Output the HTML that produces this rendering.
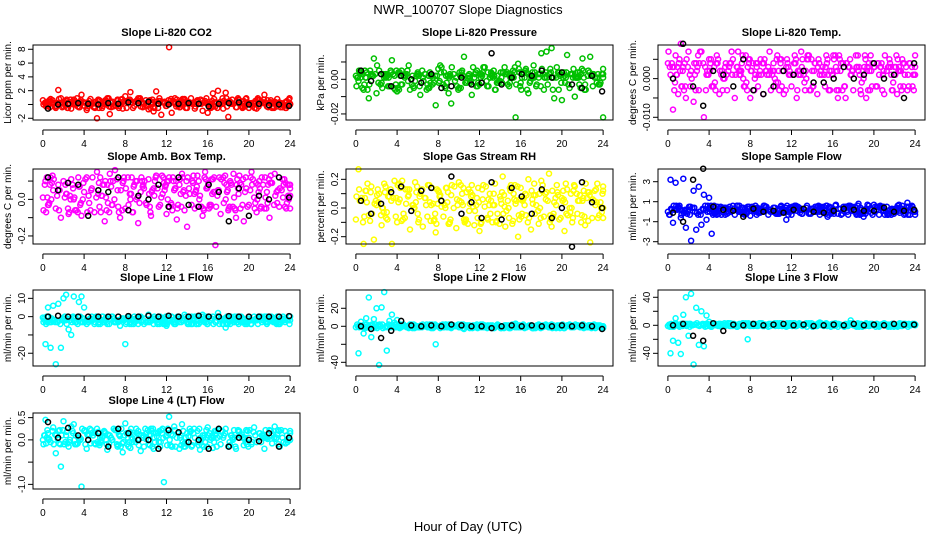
<!DOCTYPE html>
<html><head><meta charset="utf-8">
<style>
html,body{margin:0;padding:0;background:#fff;}
svg{display:block;font-family:"Liberation Sans",Arial,sans-serif;}
</style></head>
<body>
<svg id="chart" width="936" height="540" viewBox="0 0 936 540" xmlns="http://www.w3.org/2000/svg">
<rect x="0" y="0" width="936" height="540" fill="#fff"/>
<text x="468" y="14" text-anchor="middle" font-size="13">NWR_100707  Slope Diagnostics</text>
<text x="468" y="531" text-anchor="middle" font-size="13">Hour of Day (UTC)</text>
</svg>
<script>
const xTicks=[0,4,8,12,16,20,24];
const titles=["Slope Li-820 CO2","Slope Li-820 Pressure","Slope Li-820 Temp.","Slope Amb. Box Temp.","Slope Gas Stream RH","Slope Sample Flow","Slope Line 1 Flow","Slope Line 2 Flow","Slope Line 3 Flow","Slope Line 4 (LT) Flow"];
const yTitles=["Licor ppm per min.","kPa per min.","degrees C per min.","degrees C per min.","percent per min.","ml/min per min.","ml/min per min.","ml/min per min.","ml/min per min.","ml/min per min."];
const colors=["#ff0000","#00c000","#ff00ff","#ff00ff","#ffff00","#0000ff","#00ffff","#00ffff","#00ffff","#00ffff"];
const yTickVals=[[-2,0,2,4,6,8],[-0.02,-0.01,0,0.01],[-0.01,-0.005,0,0.005],[-0.2,-0.1,0,0.1],[-0.2,-0.1,0,0.1,0.2],[-3,-1,1,3],[-20,-10,0,10],[-40,-20,0,20],[-40,-20,0,20,40],[-1,-0.5,0,0.5]];
const yTickLabels=[["-2","","2","4","6","8"],["-0.02","","0.00",""],["-0.010","","0.000",""],["-0.2","","0.0",""],["-0.2","","0.0","","0.2"],["-3","-1","1","3"],["-20","","0","10"],["-40","","0","20"],["-40","","0","","40"],["-1.0","","0.0","0.5"]];
const yDomains=[[-2.25,8.62],[-0.0235,0.0198],[-0.0107,0.0087],[-0.244,0.166],[-0.251,0.272],[-3.23,4.27],[-26.97,14.56],[-44.1,40.3],[-58.1,50.4],[-1.104,0.604]];

const co2=[0.6,0.3,-0.2,0.8,0.1,-0.5,2.1,0.9,-0.3,0.5,0.2,-0.6,0.7,0.0,-0.4,1.4,0.3,-0.8,0.5,0.1,-0.3,-2.0,0.6,-0.5,0.2,0.9,-1.4,0.4,-0.2,0.7,0.1,-0.6,1.2,0.3,1.8,-0.5,0.4,0.9,-0.3,0.2,0.6,-0.7,0.1,-1.0,1.9,0.5,-1.5,0.3,-0.2,8.3,-1.2,0.4,0.7,-0.4,0.2,0.8,-0.5,0.3,0.1,-0.6,0.6,0.2,-0.9,0.5,-1.2,0.1,1.6,-0.3,2.0,0.4,-0.6,1.7,-1.8,0.3,0.1,-0.4,0.7,-0.2,0.5,0.9,-0.5,0.2,0.1,-0.6,0.6,0.3,1.4,-0.3,0.2,-0.5,0.4,0.8,0.1,-0.4,0.3,-0.2,0.0];
const co2Ref=[-0.6,0.0,0.1,0.2,0.1,0.0,0.2,0.1,0.3,0.2,0.4,0.1,0.0,0.1,0.2,0.1,-0.3,0.1,0.2,0.3,0.0,0.1,-0.1,0.0,-0.2];
const pressure=[0.002,-0.001,0.004,-0.006,0.001,-0.011,0.003,0.012,-0.008,0.005,-0.002,0.001,0.003,-0.004,0.011,0.002,-0.007,0.004,-0.003,0.001,0.005,-0.006,0.002,-0.001,0.004,-0.009,0.001,0.003,-0.005,-0.002,0.001,-0.015,0.006,0.004,-0.003,0.002,-0.008,-0.014,0.003,0.001,-0.005,0.004,0.013,-0.002,0.003,-0.009,0.001,0.005,-0.003,0.002,0.007,-0.004,0.001,0.003,-0.006,0.002,-0.001,0.004,0.003,-0.003,0.001,0.005,-0.022,0.009,-0.002,0.004,0.006,-0.008,0.002,0.008,-0.004,0.001,0.015,-0.006,0.016,0.003,0.018,-0.011,0.007,0.004,-0.012,0.002,0.014,-0.005,0.003,-0.010,0.001,0.004,0.012,-0.003,0.002,0.013,-0.004,0.001,0.003,-0.002,-0.022];
const pressureRef=[0.005,-0.001,0.003,-0.004,0.002,0.000,-0.002,0.003,-0.005,-0.004,0.001,-0.003,-0.002,0.015,-0.003,0.001,0.003,0.002,0.005,0.001,0.004,-0.003,-0.005,0.002,-0.007];
const liTemp=[0.004,0.001,-0.008,0.006,-0.004,0.009,0.003,-0.005,0.007,0.002,-0.006,0.004,-0.003,0.007,-0.010,0.001,0.005,-0.002,0.003,0.006,-0.004,0.002,0.000,-0.003,0.004,0.001,-0.005,0.003,0.002,0.006,-0.002,0.003,-0.005,0.004,0.001,-0.002,0.005,-0.004,0.002,0.003,-0.003,0.004,-0.001,0.002,0.005,-0.004,0.003,0.001,-0.002,0.004,-0.005,0.002,0.003,-0.001,0.005,-0.003,0.002,0.004,-0.004,0.001,0.003,-0.002,0.005,-0.003,0.001,0.006,-0.005,0.002,0.004,-0.005,0.003,0.001,-0.003,0.006,0.002,-0.004,0.000,-0.005,0.004,0.002,0.003,-0.002,0.001,0.004,-0.004,0.002,0.005,-0.003,0.003,-0.004,0.002,0.005,0.001,-0.003,0.004,-0.002,0.001];
const liTempRef=[0.0,0.009,-0.002,-0.007,0.002,0.001,-0.002,0.005,-0.003,-0.004,-0.002,0.002,0.001,0.002,-0.001,-0.001,0.000,0.003,0.000,0.001,0.004,0.000,0.001,-0.005,0.004];
const ambTemp=[0.01,0.1,-0.03,0.12,0.05,-0.05,0.08,-0.1,0.1,0.03,-0.08,0.11,0.0,-0.06,0.07,-0.09,0.04,0.12,-0.02,0.06,-0.07,0.15,-0.04,0.02,-0.12,0.08,0.14,-0.03,0.16,0.05,-0.1,0.09,-0.05,0.12,0.0,-0.07,0.1,-0.13,0.04,0.08,-0.02,0.11,-0.09,0.06,0.13,-0.04,0.01,0.09,-0.08,0.12,-0.03,0.05,-0.11,0.08,0.14,-0.06,-0.15,0.03,0.1,-0.05,0.13,0.02,-0.09,0.15,0.07,-0.04,0.11,-0.25,0.05,-0.08,0.12,0.0,-0.06,0.09,0.14,-0.1,0.03,0.08,-0.12,0.06,-0.03,0.15,0.01,-0.07,0.1,0.12,-0.05,0.04,-0.1,0.09,0.14,-0.02,0.06,0.11,-0.04,0.08,0.02];
const ambTempRef=[0.12,0.05,0.09,0.08,-0.09,0.05,0.04,0.12,-0.06,0.02,0.0,0.08,-0.04,0.12,-0.03,-0.04,0.08,0.04,-0.12,0.06,-0.09,0.02,0.0,0.12,0.01];
const rh=[-0.08,0.27,0.05,-0.25,0.12,-0.05,0.15,-0.22,0.02,0.1,-0.12,0.17,-0.03,0.08,-0.25,0.19,-0.1,0.06,0.19,-0.07,0.13,-0.15,0.02,0.18,-0.04,0.1,-0.13,0.07,0.16,-0.09,0.03,-0.17,0.12,0.05,-0.06,0.14,-0.11,0.09,0.0,-0.14,0.18,0.04,-0.08,0.11,-0.02,0.16,-0.12,0.07,-0.16,0.13,0.01,-0.07,0.1,-0.1,0.17,-0.04,0.08,0.22,-0.13,0.05,0.12,-0.09,0.03,-0.2,0.14,0.06,-0.05,0.2,-0.15,0.09,0.02,-0.11,0.19,-0.06,0.11,0.24,-0.13,0.04,0.16,-0.08,0.07,-0.16,0.13,0.0,-0.1,0.15,-0.04,0.09,0.05,-0.12,0.11,-0.24,0.06,0.02,-0.07,0.04,0.0];
const rhRef=[0.05,-0.04,0.03,0.11,0.15,-0.02,0.12,0.14,0.05,0.22,-0.04,0.04,-0.07,0.18,-0.08,0.14,0.08,-0.04,0.13,-0.07,0.0,-0.27,0.18,0.04,0.0];
const sampleFlow=[0.0,3.2,-1.1,2.9,0.5,-0.6,3.3,-1.6,0.2,-2.9,2.1,-1.8,2.5,-1.3,1.7,-0.8,1.4,-2.2,0.6,-0.3,0.3,0.0,0.4,-0.2,0.5,0.1,-0.3,0.6,0.0,-0.2,0.3,0.5,-0.4,0.2,0.6,-0.1,0.3,0.0,0.5,-0.3,0.2,0.4,-0.2,0.1,0.6,0.0,-0.8,0.3,-0.3,0.5,0.1,0.4,-0.2,0.2,0.6,-0.1,0.3,0.0,0.5,-0.3,0.2,0.1,-0.5,0.4,0.0,0.6,-0.2,0.3,0.1,0.5,-0.3,0.2,0.4,0.0,0.8,-0.2,-0.5,0.3,0.6,-0.1,0.7,0.2,-0.3,0.4,0.1,0.5,-0.2,0.3,0.0,0.4,-0.1,0.6,0.2,0.9,-0.3,0.5,0.0];
const sampleFlowRef=[-0.1,-1.0,3.2,4.3,0.5,0.2,0.1,-0.5,0.3,0.0,0.1,-0.1,0.2,0.3,0.0,-0.1,0.1,0.3,0.2,0.1,0.1,0.4,0.0,0.1,0.2];
const line1=[-0.5,-15,5,-17,6,-26,7,-17,10,12,-7,-10,11,-3,8,11,5,-4,-2,0,-4,-1,-3,0,-2,-4,-1,0,-3,-2,-5,-1,-15,0,-3,-2,-1,-4,0,-2,-3,1,-1,-4,-2,0,-3,-1,-5,-2,0,-4,-1,-3,-2,1,-3,-1,-4,0,-2,-3,1,-1,-4,-2,0,-3,2,-1,-4,-6,-2,0,-3,-1,-4,0,-2,-3,-1,-4,0,-2,-1,-3,0,-4,-2,-1,-3,0,-4,-1,-3,-2,-2];
const line1Ref=[0,0.5,0,0,0,0,0,0,0.3,0,0.5,0,0.5,0,0,0.5,0,0,0.3,0,0,0,0,0,0.3];
const line2=[-1,-30,5,-8,9,32,-12,8,20,-43,21,38,-27,6,13,4,7,-2,1,0,-1,2,-2,1,0,-1,2,0,-1,1,-2,-20,0,1,-1,2,0,-2,1,0,-1,2,-3,0,1,-1,0,2,-1,0,1,-2,0,1,-1,2,0,-1,1,0,-2,1,3,0,-1,2,-1,0,1,-2,0,2,-1,0,1,-1,2,0,-1,1,0,-2,1,2,-1,0,1,-1,2,0,-1,1,0,-2,1,0,-2];
const line2Ref=[0,-3,-13,-5,6,1,0,1,0,2,1,0,0,-2,0,1,0,1,0,0,1,0,1,0,-3];
const line3=[-1,-40,-22,10,-25,-41,15,40,-15,45,-56,25,-28,20,-30,14,5,-2,1,0,2,-1,3,0,-1,2,1,-2,0,3,-1,-20,1,0,2,-1,3,0,1,-2,2,0,1,-1,3,0,-2,1,2,0,-1,3,1,0,-2,2,0,1,-1,4,0,2,-1,1,0,3,-2,1,0,2,-1,7,0,1,-1,2,0,3,-1,1,0,2,-2,1,3,0,-1,2,1,0,3,-1,2,1,0,2,1];
const line3Ref=[0,2,-15,-22,3,-8,1,0,2,0,1,2,0,1,-1,0,1,0,2,0,1,0,2,1,1];
const line4=[0.0,0.45,0.15,-0.05,0.28,-0.3,0.2,-0.6,0.42,0.1,-0.15,0.3,0.35,-0.1,0.05,-1.05,0.2,-0.2,0.1,0.15,-0.08,0.25,-0.12,0.05,0.18,-0.22,0.1,0.0,0.22,-0.15,0.08,-0.28,0.37,0.05,-0.18,0.12,-0.05,0.2,-0.25,0.1,0.02,-0.1,0.25,-0.2,0.15,-0.05,0.22,-0.95,0.1,0.52,-0.15,0.3,0.05,-0.2,0.35,-0.08,0.15,0.25,-0.12,0.05,0.2,-0.22,0.1,-0.05,0.28,0.0,-0.18,0.12,0.22,-0.1,0.05,0.25,-0.15,0.1,0.02,-0.2,0.18,0.08,-0.12,0.22,0.05,-0.1,0.28,-0.05,0.15,0.1,-0.2,0.05,0.22,-0.08,0.3,0.12,-0.15,0.05,0.2,-0.05,0.0];
const line4Ref=[0.4,0.05,0.27,0.1,0.0,0.15,-0.15,0.25,0.15,0.0,0.0,-0.2,0.22,0.17,-0.05,0.0,-0.2,0.25,-0.15,0.05,0.0,-0.03,0.15,-0.15,0.05];

const seriesMain=[co2,pressure,liTemp,ambTemp,rh,sampleFlow,line1,line2,line3,line4];
const seriesRef=[co2Ref,pressureRef,liTempRef,ambTempRef,rhRef,sampleFlowRef,line1Ref,line2Ref,line3Ref,line4Ref];

const NS="http://www.w3.org/2000/svg";
const svg=document.getElementById('chart');
const colLeft=[33,346,658], boxW=267;
const rowTop=[45,169,290,413], boxH=[75,75,76,76];
function mk(tag,attrs,parent){const e=document.createElementNS(NS,tag);for(const k in attrs)e.setAttribute(k,attrs[k]);parent.appendChild(e);return e;}

for(let p=0;p<10;p++){
  const col=p%3,row=Math.floor(p/3);
  const L=colLeft[col],T=rowTop[row],H=boxH[row],R=L+boxW,B=T+H;
  const xs=h=>L+boxW*0.04/1.08+h*(boxW/1.08)/24;
  const [y0,y1]=yDomains[p];
  const ys=v=>B-(v-y0)/(y1-y0)*H;
  const g=mk('g',{},svg);
  
  
  const t=mk('text',{x:(L+R)/2,y:T-9,'text-anchor':'middle','font-size':11,'font-weight':'bold'},g);
  t.textContent=titles[p];
  
  
  const pts=mk('g',{fill:'none','stroke-width':1.5},g);
  
  
  const main=seriesMain[p];
  const n=main.length;
  // band of typical values (middle of distribution) used for extra density passes
  const sorted=main.slice().sort((a,b)=>a-b);
  const med=sorted[Math.floor(n/2)];
  const dev=main.map(v=>Math.abs(v-med)).sort((a,b)=>a-b);
  const lim=dev[Math.floor(n*0.72)];
  for(let k=3;k>=0;k--){
    main.forEach((v0,i)=>{
      const v=k===0?v0:main[(i*7+k*13)%n];
      if(k>0&&Math.abs(v-med)>lim)return;
      const h=Math.min(24,(i+k*0.25)*24/(n-1));
      const c=mk('circle',{cx:xs(h).toFixed(1),cy:ys(v).toFixed(1),r:2.5,stroke:colors[p]},pts);
      
      
    });
  }
  const ref=seriesRef[p];
  ref.forEach((v,i)=>{
    const c=mk('circle',{cx:xs(0.5+i*23.4/(ref.length-1)).toFixed(1),cy:ys(v).toFixed(1),r:2.5,stroke:'#000'},pts);
    
    
  });
  const bx=mk('rect',{x:L,y:T,width:boxW,height:H,fill:'none',stroke:'#000','stroke-width':1},g);
  
  
  const ax=mk('g',{stroke:'#000','stroke-width':1},g);
  
  
  const axY=B+10;
  mk('line',{x1:xs(0),x2:xs(24),y1:axY,y2:axY},ax);
  xTicks.forEach(h=>{
    mk('line',{x1:xs(h),x2:xs(h),y1:axY,y2:axY+5},ax);
    const tl=mk('text',{x:xs(h),y:axY+17,'text-anchor':'middle','font-size':10,stroke:'none',fill:'#000'},ax);
    tl.textContent=h;
    
    
  });
  const ay=mk('g',{stroke:'#000','stroke-width':1},g);
  
  
  const tv=yTickVals[p];
  mk('line',{x1:L,x2:L,y1:ys(tv[0]),y2:ys(tv[tv.length-1])},ay);
  tv.forEach((v,i)=>{
    const yy=ys(v);
    mk('line',{x1:L-5,x2:L,y1:yy,y2:yy},ay);
    const lab=yTickLabels[p][i];
    if(lab){
      const tl=mk('text',{x:L-8,y:yy,'text-anchor':'middle','font-size':10,stroke:'none',fill:'#000',transform:`rotate(-90 ${L-8} ${yy})`},ay);
      tl.textContent=lab;
      
      
    }
  });
  const yt=mk('text',{x:L-22,y:(T+B)/2,'text-anchor':'middle','font-size':10,transform:`rotate(-90 ${L-22} ${(T+B)/2})`},g);
  yt.textContent=yTitles[p];
  
  
}
</script>
</body></html>
